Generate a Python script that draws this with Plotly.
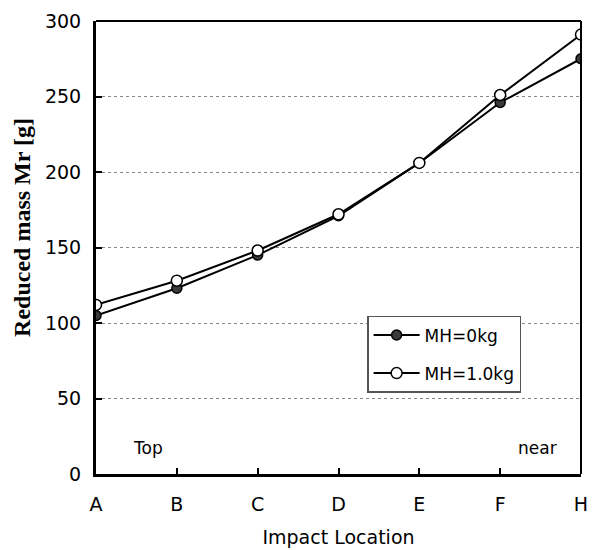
import plotly.graph_objects as go

categories = ["A", "B", "C", "D", "E", "F", "H"]
mh0 = [105, 123, 145, 171, 206, 246, 275]
mh1 = [112, 128, 148, 172, 206, 251, 291]
series_names = ["MH=0kg", "MH=1.0kg"]
y_ticks = [0, 50, 100, 150, 200, 250, 300]

fig = go.Figure()
fig.add_trace(go.Scatter(
    x=categories, y=mh0, name=series_names[0], mode="lines+markers",
    legendgroup="g0",
    line=dict(color="black", width=2),
    marker=dict(symbol="circle", size=10, color="#3a3a3a", line=dict(color="black", width=1.5)),
))
fig.add_trace(go.Scatter(
    x=categories, y=mh1, name=series_names[1], mode="lines+markers",
    legendgroup="g1",
    line=dict(color="black", width=2),
    marker=dict(symbol="circle", size=11, color="white", line=dict(color="black", width=1.5)),
))

fig.update_layout(
    width=600, height=550,
    margin=dict(l=88, r=27, t=13, b=84),
    paper_bgcolor="white", plot_bgcolor="white",
    font=dict(family="DejaVu Sans, Arial, sans-serif", size=19, color="black"),
    showlegend=True,
    legend=dict(
        x=0.559, y=0.349, xanchor="left", yanchor="top",
        bordercolor="#555", borderwidth=1.5, bgcolor="white",
        font=dict(size=17), itemwidth=46, tracegroupgap=13,
        traceorder="grouped",
    ),
    xaxis=dict(
        type="category", range=[0, 6], automargin=False,
        showline=True, linecolor="black", linewidth=3,
        ticks="inside", ticklen=6, tickwidth=2, tickcolor="black",
        showgrid=False, zeroline=False,
        title=dict(text="Impact Location", font=dict(size=19), standoff=17),
        ticklabelstandoff=11,
    ),
    yaxis=dict(
        range=[0, 300], tickvals=y_ticks, automargin=False,
        showline=True, linecolor="black", linewidth=3,
        ticks="inside", ticklen=6, tickwidth=2, tickcolor="black",
        showgrid=True, gridcolor="#888", gridwidth=1, griddash="dot",
        zeroline=False,
        ticklabelstandoff=8,
    ),
    shapes=[
        dict(type="line", xref="paper", yref="paper", x0=0, x1=1, y0=1, y1=1,
             line=dict(color="black", width=2)),
        dict(type="line", xref="paper", yref="paper", x0=1, x1=1, y0=0, y1=1,
             line=dict(color="black", width=2)),
    ],
    annotations=[
        dict(text="Reduced mass Mr [g]", xref="paper", yref="paper",
             x=-0.153, y=0.545, xanchor="center", yanchor="middle", textangle=-90,
             showarrow=False,
             font=dict(family="Liberation Serif, Times New Roman, serif", size=24, weight="bold")),
        dict(text="Top", xref="paper", yref="paper", x=0.108, y=0.057,
             xanchor="center", yanchor="middle", showarrow=False, font=dict(size=17)),
        dict(text="near", xref="paper", yref="paper", x=0.91, y=0.057,
             xanchor="center", yanchor="middle", showarrow=False, font=dict(size=17)),
    ],
)

fig.write_html("out.html")
